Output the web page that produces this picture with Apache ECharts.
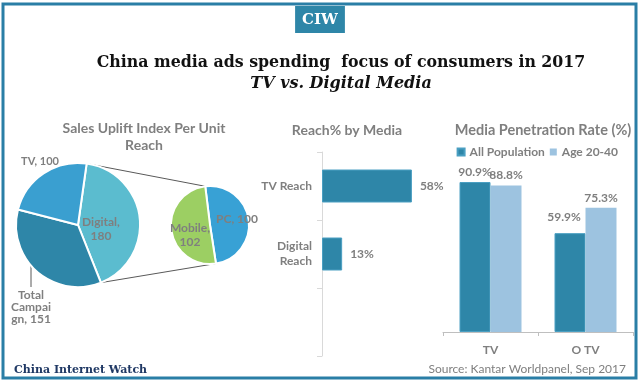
<!DOCTYPE html>
<html>
<head>
<meta charset="utf-8">
<script src="https://cdn.jsdelivr.net/npm/echarts@6/dist/echarts.min.js"></script>
<style>html,body{margin:0;padding:0;background:#fff}#c{width:640px;height:381px}</style>
</head>
<body>
<div id="c"></div>
<script>
// ---- data ----
const upliftNames = ['Digital', 'Total Campaign', 'TV'];
const upliftValues = [180, 151, 100];
const digitalNames = ['PC', 'Mobile'];
const digitalValues = [100, 102];
const reachCategories = ['TV Reach', 'Digital\nReach', ''];
const reachValues = [58, 13, null];
const penCategories = ['TV', 'O TV'];
const penAll = [90.9, 59.9];
const penYoung = [88.8, 75.3];
const penSeries = ['All Population', 'Age 20-40'];

// ---- styling/geometry ----
const GRAY = '#7f7f7f';
const FONT = 'Lato, "DejaVu Sans", sans-serif';
const SERIF = '"DejaVu Serif", Georgia, serif';
const bigC = [78, 225], bigR = 62, bigStart = 82;
const smallC = [210, 225], smallR = 39, smallStart = 97;
const tcLabel = [31, 307];   // label anchor of the Total Campaign slice

function sum(a){return a.reduce((s,v)=>s+v,0);}
function pt(c, r, deg){const a = deg*Math.PI/180; return [c[0]+r*Math.cos(a), c[1]-r*Math.sin(a)];}
const digEnd = bigStart - upliftValues[0]/sum(upliftValues)*360;
const pcEnd = smallStart - digitalValues[0]/sum(digitalValues)*360;
const bigTop = pt(bigC, bigR, bigStart), bigBot = pt(bigC, bigR, digEnd);
const smTop = pt(smallC, smallR, smallStart), smBot = pt(smallC, smallR, pcEnd);
const tcRimY = bigC[1] + Math.sqrt(bigR*bigR - Math.pow(tcLabel[0]-bigC[0], 2));

const chart = echarts.init(document.getElementById('c'), null, {renderer: 'canvas'});
const lbl = {color: GRAY, fontFamily: FONT, fontWeight: 'bold', fontSize: 12};

chart.setOption({
  animation: false,
  title: [
    {text: 'CIW', left: 'center', top: 6, backgroundColor: '#2e86a8', padding: [7, 7, 5, 7],
     textStyle: {color: '#fff', fontFamily: SERIF, fontWeight: 'bold', fontSize: 15}},
    {text: 'China media ads spending  focus of consumers in 2017', left: 336, textAlign: 'center', top: 50,
     textStyle: {color: '#111', fontFamily: SERIF, fontWeight: 'bold', fontSize: 15.8}},
    {text: 'TV vs. Digital Media', left: 336, textAlign: 'center', top: 71,
     textStyle: {color: '#111', fontFamily: SERIF, fontWeight: 'bold', fontStyle: 'italic', fontSize: 16}},
    {text: 'Sales Uplift Index Per Unit\nReach', left: 139, textAlign: 'center', top: 115,
     textStyle: {color: GRAY, fontFamily: FONT, fontWeight: 'bold', fontSize: 14, lineHeight: 17, align: 'center'}},
    {text: 'Reach% by Media', left: 342, textAlign: 'center', top: 118,
     textStyle: {color: GRAY, fontFamily: FONT, fontWeight: 'bold', fontSize: 14}},
    {text: 'Media Penetration Rate (%)', left: 538, textAlign: 'center', top: 118,
     textStyle: {color: GRAY, fontFamily: FONT, fontWeight: 'bold', fontSize: 14.5}},
    {text: 'China Internet Watch', left: 9, top: 360,
     textStyle: {color: '#1f3864', fontFamily: SERIF, fontWeight: 'bold', fontSize: 11}},
    {text: 'Source: Kantar Worldpanel, Sep 2017', right: 9, top: 358,
     textStyle: {color: GRAY, fontFamily: FONT, fontWeight: 'normal', fontSize: 12}}
  ],
  legend: {
    data: penSeries, top: 146, right: 22, padding: 0, itemWidth: 7, itemHeight: 7, itemGap: 5,
    icon: 'rect', textStyle: {color: GRAY, fontFamily: FONT, fontWeight: 'bold', fontSize: 12}
  },
  grid: [
    {left: 322, top: 152, width: 124, height: 204},
    {left: 443, top: 167, width: 190, height: 165}
  ],
  xAxis: [
    {gridIndex: 0, type: 'value', min: 0, max: 80, show: false},
    {gridIndex: 1, type: 'category', data: penCategories,
     axisLine: {lineStyle: {color: '#bfbfbf'}}, axisTick: {show: true, length: 4, lineStyle: {color: '#bfbfbf'}},
     axisLabel: Object.assign({margin: 12}, lbl)}
  ],
  yAxis: [
    {gridIndex: 0, type: 'category', inverse: true, data: reachCategories,
     axisLine: {lineStyle: {color: '#d9d9d9'}}, axisTick: {show: true, length: 5, lineStyle: {color: '#d9d9d9'}},
     axisLabel: Object.assign({margin: 10, align: 'right', lineHeight: 15}, lbl)},
    {gridIndex: 1, type: 'value', min: 0, max: 100, show: false}
  ],
  series: [
    {type: 'pie', center: bigC, radius: bigR, startAngle: bigStart, clockwise: true,
     color: ['#5bbccf', '#2e86a8', '#3a9fd0'],
     itemStyle: {borderColor: '#fff', borderWidth: 2},
     label: Object.assign({position: 'inside', formatter: '{b},\n{c}', lineHeight: 14, align: 'center'}, lbl),
     labelLine: {show: false},
     data: [
       {name: upliftNames[0], value: upliftValues[0]},
       {name: upliftNames[1], value: upliftValues[1],
        label: {formatter: 'Total\nCampai\ngn, {c}', lineHeight: 12}},
       {name: upliftNames[2], value: upliftValues[2],
        label: {formatter: '{b}, {c}', fontSize: 11}}
     ],
     labelLayout: function (p) {
       if (p.dataIndex === 1) return {x: tcLabel[0], y: tcLabel[1], align: 'center', verticalAlign: 'middle'};
       if (p.dataIndex === 2) return {x: 40, y: 161, align: 'center', verticalAlign: 'middle'};
       if (p.dataIndex === 0) return {x: 101, y: 229, align: 'center', verticalAlign: 'middle'};
     }
    },
    {type: 'pie', center: smallC, radius: smallR, startAngle: smallStart, clockwise: true,
     color: ['#38a1d5', '#9ccf63'],
     itemStyle: {borderColor: '#fff', borderWidth: 2},
     label: Object.assign({position: 'inside', lineHeight: 14}, lbl),
     labelLine: {show: false},
     data: [
       {name: digitalNames[0], value: digitalValues[0], label: {formatter: '{b}, {c}'}},
       {name: digitalNames[1], value: digitalValues[1], label: {formatter: '{b},\n{c}'}}
     ],
     labelLayout: function (p) {
       if (p.dataIndex === 0) return {x: 237, y: 219, align: 'center', verticalAlign: 'middle'};
       if (p.dataIndex === 1) return {x: 190, y: 235, align: 'center', verticalAlign: 'middle'};
     }
    },
    {type: 'bar', xAxisIndex: 0, yAxisIndex: 0, data: reachValues, barWidth: 33,
     itemStyle: {color: '#2e86a8', borderColor: '#4a9fc2', borderWidth: 1},
     label: Object.assign({show: true, position: 'right', distance: 8, formatter: '{c}%'}, lbl)},
    {name: penSeries[0], type: 'bar', xAxisIndex: 1, yAxisIndex: 1, barWidth: 31, barGap: '0%',
     itemStyle: {color: '#2e86a8', borderColor: '#4a9fc2', borderWidth: 1},
     data: penAll.map((v, i) => i === 1 ? {value: v, label: {offset: [-6, -6]}} : v),
     label: Object.assign({show: true, position: 'top', distance: 4, formatter: '{c}%'}, lbl)},
    {name: penSeries[1], type: 'bar', xAxisIndex: 1, yAxisIndex: 1, barWidth: 31, barGap: '0%',
     itemStyle: {color: '#9dc3e0'},
     data: penYoung,
     label: Object.assign({show: true, position: 'top', distance: 4, formatter: '{c}%'}, lbl)}
  ],
  graphic: [
    {type: 'rect', shape: {x: 3, y: 4, width: 633, height: 374}, style: {fill: 'none', stroke: '#2a7ea6', lineWidth: 3}, z: 100},
    {type: 'line', shape: {x1: bigTop[0], y1: bigTop[1], x2: smTop[0], y2: smTop[1]}, style: {stroke: '#595959', lineWidth: 1}},
    {type: 'line', shape: {x1: bigBot[0], y1: bigBot[1], x2: smBot[0], y2: smBot[1]}, style: {stroke: '#595959', lineWidth: 1}},
    {type: 'line', shape: {x1: tcLabel[0], y1: tcRimY, x2: tcLabel[0], y2: tcLabel[1] - 20}, style: {stroke: '#595959', lineWidth: 1}}
  ]
});
</script>
</body>
</html>
